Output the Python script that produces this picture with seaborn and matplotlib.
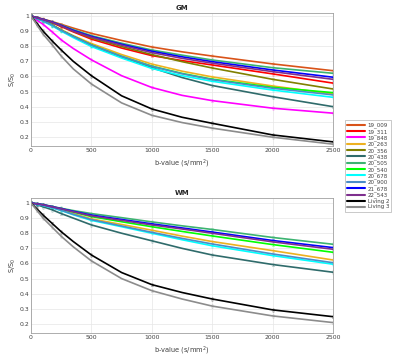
import numpy as np
import pandas as pd
import matplotlib
matplotlib.use('Agg')
import matplotlib.pyplot as plt
import seaborn as sns

# b-values at which the curves were read
bvals = [0, 50, 100, 175, 250, 350, 500, 750, 1000, 1250, 1500, 2000, 2500]

samples = ['19_009', '19_311', '19_848', '20_263', '20_356', '20_438', '20_505',
           '20_540', '20_678', '20_900', '21_678', '22_543', 'Living 2', 'Living 3']
colors = ['#D95319', '#FF0000', '#FF00FF', '#EDB120', '#808000', '#2F6B6B', '#3CB371',
          '#00FF00', '#00FFFF', '#4A8CC8', '#0000FF', '#7E2F8E', '#000000', '#8C8C8C']

# GM signal S/S0
gm = {
    '19_009':   [1, 0.990, 0.980, 0.963, 0.945, 0.920, 0.885, 0.838, 0.795, 0.763, 0.735, 0.683, 0.638],
    '19_311':   [1, 0.988, 0.975, 0.955, 0.930, 0.895, 0.847, 0.788, 0.738, 0.705, 0.676, 0.617, 0.556],
    '19_848':   [1, 0.972, 0.945, 0.895, 0.842, 0.785, 0.710, 0.605, 0.527, 0.475, 0.440, 0.390, 0.357],
    '20_263':   [1, 0.985, 0.970, 0.942, 0.910, 0.870, 0.818, 0.745, 0.682, 0.635, 0.597, 0.537, 0.484],
    '20_356':   [1, 0.988, 0.975, 0.957, 0.935, 0.900, 0.855, 0.798, 0.745, 0.698, 0.656, 0.581, 0.517],
    '20_438':   [1, 0.985, 0.970, 0.940, 0.905, 0.865, 0.808, 0.728, 0.658, 0.593, 0.540, 0.466, 0.400],
    '20_505':   [1, 0.989, 0.978, 0.960, 0.940, 0.910, 0.870, 0.820, 0.775, 0.741, 0.709, 0.658, 0.621],
    '20_540':   [1, 0.984, 0.968, 0.940, 0.905, 0.865, 0.808, 0.733, 0.668, 0.620, 0.582, 0.528, 0.493],
    '20_678':   [1, 0.983, 0.965, 0.935, 0.900, 0.857, 0.798, 0.722, 0.653, 0.605, 0.568, 0.510, 0.462],
    '20_900':   [1, 0.984, 0.968, 0.940, 0.905, 0.865, 0.808, 0.733, 0.667, 0.618, 0.579, 0.522, 0.478],
    '21_678':   [1, 0.989, 0.978, 0.960, 0.938, 0.905, 0.865, 0.813, 0.767, 0.730, 0.698, 0.643, 0.595],
    '22_543':   [1, 0.988, 0.977, 0.958, 0.935, 0.900, 0.860, 0.807, 0.758, 0.720, 0.688, 0.632, 0.581],
    'Living 2': [1, 0.950, 0.900, 0.835, 0.775, 0.700, 0.605, 0.472, 0.385, 0.330, 0.290, 0.213, 0.167],
    'Living 3': [1, 0.940, 0.880, 0.810, 0.735, 0.650, 0.550, 0.425, 0.343, 0.295, 0.258, 0.198, 0.152],
}

# WM signal S/S0 (no WM data for 19_009, 19_311, 19_848, 20_356)
wm = {
    '20_263':   [1, 0.992, 0.985, 0.970, 0.955, 0.930, 0.895, 0.858, 0.820, 0.781, 0.745, 0.685, 0.623],
    '20_438':   [1, 0.988, 0.975, 0.955, 0.930, 0.900, 0.855, 0.800, 0.750, 0.700, 0.656, 0.593, 0.542],
    '20_505':   [1, 0.995, 0.990, 0.977, 0.965, 0.950, 0.930, 0.903, 0.875, 0.849, 0.825, 0.772, 0.727],
    '20_540':   [1, 0.994, 0.987, 0.974, 0.960, 0.940, 0.910, 0.876, 0.843, 0.812, 0.782, 0.725, 0.674],
    '20_678':   [1, 0.991, 0.983, 0.968, 0.950, 0.922, 0.885, 0.843, 0.800, 0.757, 0.717, 0.652, 0.595],
    '20_900':   [1, 0.992, 0.984, 0.970, 0.952, 0.925, 0.890, 0.848, 0.806, 0.766, 0.729, 0.663, 0.605],
    '21_678':   [1, 0.995, 0.989, 0.976, 0.963, 0.945, 0.920, 0.891, 0.862, 0.835, 0.808, 0.752, 0.705],
    '22_543':   [1, 0.994, 0.988, 0.975, 0.962, 0.942, 0.915, 0.885, 0.855, 0.828, 0.800, 0.743, 0.694],
    'Living 2': [1, 0.960, 0.920, 0.865, 0.810, 0.745, 0.656, 0.540, 0.460, 0.408, 0.365, 0.293, 0.248],
    'Living 3': [1, 0.950, 0.900, 0.840, 0.780, 0.710, 0.617, 0.500, 0.420, 0.365, 0.318, 0.253, 0.209],
}

# measured b-values (faint markers with error bars) and their half-widths
b_meas = [0, 50, 100, 175, 250, 500, 1000, 1500, 2000, 2500]
err = 0.012


def long_form(d):
    rows = []
    for s, vals in d.items():
        for b, v in zip(bvals, vals):
            rows.append([s, b, v])
    return pd.DataFrame(rows, columns=['sample', 'b', 'S'])


sns.set_style('whitegrid')
plt.rcParams['font.family'] = ['DejaVu Sans']
palette = dict(zip(samples, colors))

fig = plt.figure(figsize=(4.0, 3.56), dpi=100)
ax_gm = fig.add_axes([0.0775, 0.590, 0.755, 0.3735])
ax_wm = fig.add_axes([0.0775, 0.0646, 0.755, 0.3792])

for ax, d, title, ylim in [(ax_gm, gm, 'GM', (0.14, 1.02)), (ax_wm, wm, 'WM', (0.14, 1.033))]:
    df = long_form(d)
    pts = df[df['b'].isin(b_meas)]
    # faint measured points with error bars
    for s, grp in pts.groupby('sample'):
        ax.errorbar(grp['b'], grp['S'], yerr=err, fmt='x', ms=2, mew=0.4, lw=0.4, capsize=1,
                    color=palette[s], alpha=0.3, zorder=1)
    sns.lineplot(data=df, x='b', y='S', hue='sample', hue_order=[s for s in samples if s in d],
                 palette=palette, linewidth=1.2, ax=ax, legend=False, zorder=2)
    ax.set_xlim(0, 2500)
    ax.set_ylim(*ylim)
    ax.set_xticks([0, 500, 1000, 1500, 2000, 2500])
    ax.set_yticks([0.2, 0.3, 0.4, 0.5, 0.6, 0.7, 0.8, 0.9, 1.0])
    ax.set_yticklabels(['0.2', '0.3', '0.4', '0.5', '0.6', '0.7', '0.8', '0.9', '1'])
    ax.tick_params(labelsize=4.4, colors='#404040', length=1.5, pad=1.5, direction='in')
    ax.grid(True, color='#E6E6E6', lw=0.5)
    for sp in ax.spines.values():
        sp.set_color('#A0A0A0')
        sp.set_linewidth(0.6)
    ax.set_title(title, fontsize=5.0, fontweight='bold', pad=2)
    ax.set_xlabel('b-value (s/mm$^2$)', fontsize=4.8, color='#404040', labelpad=3)
    ax.set_ylabel('S/S$_0$', fontsize=4.8, color='#404040', labelpad=1)

handles = [plt.Line2D([], [], color=c, lw=1.5) for c in colors]
leg = fig.legend(handles, samples, loc='upper left', bbox_to_anchor=(0.862, 0.662),
                 fontsize=4.0, frameon=True, fancybox=False, handlelength=3.2,
                 handletextpad=0.5, labelspacing=0.12, borderpad=0.4, borderaxespad=0)
leg.get_frame().set_edgecolor('#A0A0A0')
leg.get_frame().set_linewidth(0.5)
for t in leg.get_texts():
    t.set_color('#404040')

fig.savefig('out.png', dpi=100)
